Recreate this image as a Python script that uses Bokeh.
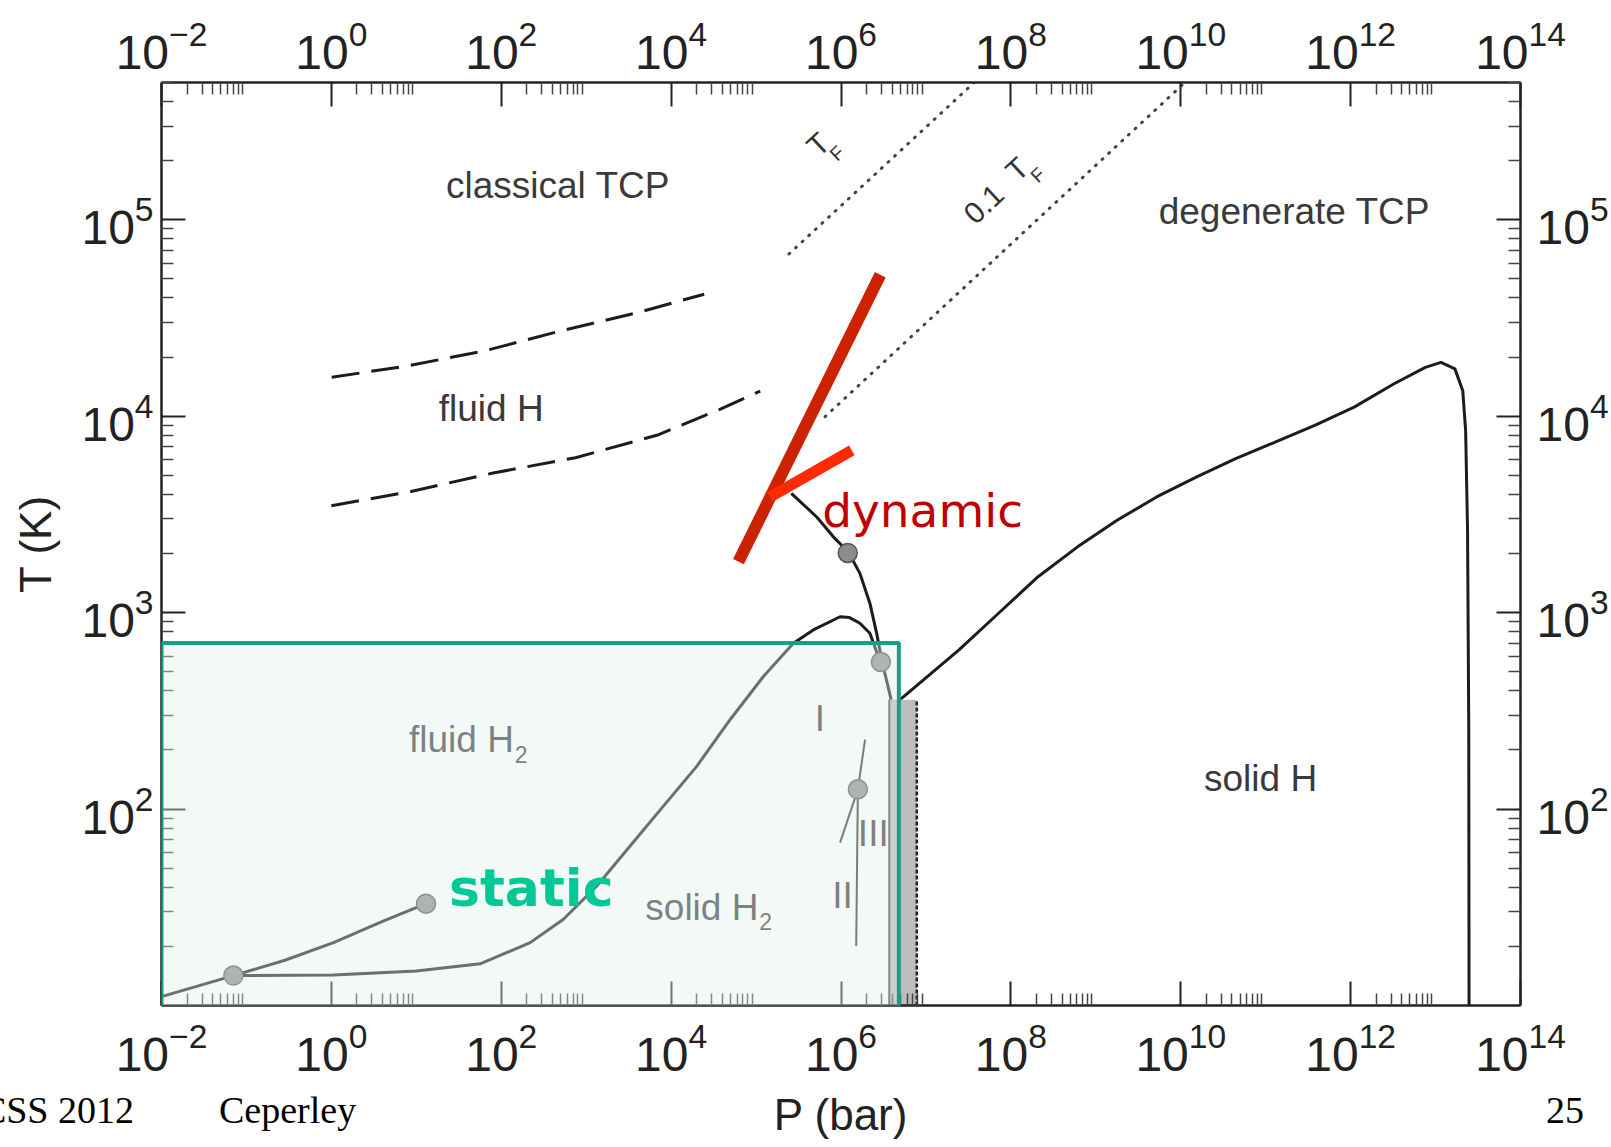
from bokeh.plotting import figure
from bokeh.layouts import column
from bokeh.models import (LogAxis, FixedTicker, LogTickFormatter, Range1d, Label,
                          BoxAnnotation, Div)
from bokeh.core.properties import value
from bokeh.embed import file_html
from bokeh.resources import INLINE

# ---------------- data (P in bar, T in K) ----------------
x_major = [1e-2, 1e0, 1e2, 1e4, 1e6, 1e8, 1e10, 1e12, 1e14]
x_minor = [k * 10.0 ** n for n in range(-2, 14, 2) for k in range(2, 10)]
y_major = [1e2, 1e3, 1e4, 1e5]
y_minor = [k * 10.0 ** n for n in range(1, 6) for k in range(2, 10)]

subl_P = [0.01, 0.0703]
subl_T = [11.1, 14.2]
vap_P = [0.0703, 0.284, 1.06, 3.94, 13.0]
vap_T = [14.2, 17.0, 20.9, 26.7, 33.0]
melt_P = [0.0703, 1.06, 10.0, 56.4, 219, 540, 1334, 3289, 8110, 2.00e4, 4.94e4,
          1.22e5, 2.75e5, 4.72e5, 9.75e5, 1.26e6, 1.67e6, 2.19e6, 2.88e6]
melt_T = [14.2, 14.3, 15.0, 16.3, 20.9, 27.5, 40.6, 64.9, 103.5, 165, 285,
          473, 698, 817, 953, 944, 883, 785, 564]
diss_P = [2.6e5, 5.18e5, 8.13e5, 1.22e6, 1.67e6, 2.19e6, 2.63e6, 3.01e6, 3.9e6]
diss_T = [4050, 3069, 2432, 2037, 1585, 1114, 785, 575, 360]
solidH_P = [4.9e6, 5.47e6, 2.45e7, 7.16e7, 2.09e8, 6.10e8, 1.78e9, 5.20e9, 1.52e10,
            4.43e10, 1.29e11, 3.78e11, 1.10e12, 3.21e12, 7.57e12, 1.16e13, 1.69e13,
            2.09e13, 2.26e13, 2.38e13, 2.46e13, 2.48e13]
solidH_T = [360, 374, 646, 993, 1524, 2163, 2951, 3882, 4898, 6081, 7379, 8974,
            11120, 14590, 17740, 18790, 17420, 13490, 8450, 2630, 254, 10]
i3_P = [9.75e5, 1.58e6, 1.92e6]
i3_T = [67.5, 126, 226]
ii_P = [1.58e6, 1.51e6]
ii_T = [126, 20.1]
band_P = [3.7e6, 7.8e6]
band_T = [10, 360]

dashA_P = [1.01, 8.05, 64.0, 509, 4055, 2.45e4]
dashA_T = [15780, 18070, 21530, 27230, 33730, 41780]
dashB_P = [1.0, 8.69, 80.5, 748, 6930, 3.69e4, 1.12e5]
dashB_T = [3500, 4140, 5140, 6150, 8020, 10810, 13430]

tf_P = [2.44e5, 3.7e7]
tf_T = [6.7e4, 5.0e5]
tf01_P = [6.5e5, 1.12e10]
tf01_T = [9950, 5.0e5]

dot_P = [0.0703, 13.0, 2.95e6, 1.2e6, 1.58e6]
dot_T = [14.2, 33.0, 560, 2014, 126]

dyn1_P = [6.2e4, 2.9e6]
dyn1_T = [1820, 52500]
dyn2_P = [1.46e5, 1.34e6]
dyn2_T = [3880, 6700]

static_P = [1e-2, 4.8e6]
static_T = [9.7, 700]

region_text = ["classical TCP", "degenerate TCP", "fluid H", "fluid H", "solid H", "solid H",
               "I", "II", "III"]
region_P = [4.66e2, 2.18e11, 76.2, 34.0, 2.30e4, 8.7e10, 5.65e5, 1.04e6, 2.40e6]
region_T = [1.49e5, 1.10e5, 1.10e4, 226, 31.5, 143, 288, 36.5, 75]
sub_text = ["2", "2"]
sub_P = [172, 1.3e5]
sub_T = [189, 26.7]

footer_items = ["CSS 2012", "Ceperley", "25"]

# ---------------- figure ----------------
W = 1608
BOTTOM = 156
p = figure(x_axis_type="log", y_axis_type="log",
           x_range=Range1d(1e-2, 1e14), y_range=Range1d(10, 5e5),
           frame_width=1359, frame_height=923,
           min_border_left=161, min_border_right=W - 161 - 1359,
           min_border_top=82, min_border_bottom=BOTTOM,
           output_backend="svg", toolbar_location=None)
p.grid.visible = False
p.outline_line_color = None
p.background_fill_color = "white"
p.border_fill_color = "white"

xt = FixedTicker(ticks=x_major, minor_ticks=x_minor)
yt = FixedTicker(ticks=y_major, minor_ticks=y_minor)


def style(ax, ticker, standoff):
    ax.ticker = ticker
    ax.formatter = LogTickFormatter()
    ax.axis_line_color = "#222222"
    ax.axis_line_width = 2.5
    ax.major_tick_line_color = "#222222"
    ax.major_tick_line_width = 2
    ax.major_tick_in = 24
    ax.major_tick_out = 0
    ax.minor_tick_line_color = "#444444"
    ax.minor_tick_line_width = 1.5
    ax.minor_tick_in = 12
    ax.minor_tick_out = 0
    ax.major_label_text_font = "Liberation Sans"
    ax.major_label_text_font_size = "48px"
    ax.major_label_text_color = "#222222"
    ax.major_label_standoff = standoff


bx = p.xaxis[0]
style(bx, xt, 16)
bx.axis_label = "P (bar)"
bx.axis_label_standoff = 16
ly = p.yaxis[0]
style(ly, yt, 8)
ly.axis_label = "T (K)"
ly.axis_label_standoff = 18
for ax in (bx, ly):
    ax.axis_label_text_font = "Liberation Sans"
    ax.axis_label_text_font_size = "44px"
    ax.axis_label_text_font_style = "normal"
    ax.axis_label_text_color = "#222222"

top = LogAxis()
style(top, xt, 14)
p.add_layout(top, "above")
right = LogAxis()
style(right, yt, 16)
p.add_layout(right, "right")

# ---------------- phase lines ----------------
black = "#1c1c1c"
p.line(subl_P, subl_T, line_color=black, line_width=3)
p.line(vap_P, vap_T, line_color=black, line_width=3, line_join="round")
p.line(melt_P, melt_T, line_color=black, line_width=3, line_join="round")
p.line(diss_P, diss_T, line_color=black, line_width=3, line_join="round")
p.line(solidH_P, solidH_T, line_color=black, line_width=3, line_join="round")
p.line(i3_P, i3_T, line_color="#333333", line_width=2)
p.line(ii_P, ii_T, line_color="#333333", line_width=2)
p.quad(left=band_P[0], right=band_P[1], bottom=band_T[0], top=band_T[1],
       fill_color="#bdbdbd", line_color=None)
p.line([band_P[0], band_P[0]], band_T, line_color="#444444", line_width=2)
p.line([band_P[1], band_P[1]], band_T, line_color="#222222", line_width=2.5,
       line_dash="4 2")

p.line(dashA_P, dashA_T, line_color=black, line_width=3, line_dash="28 12")
p.line(dashB_P, dashB_T, line_color=black, line_width=3, line_dash="28 12")
p.line(tf_P, tf_T, line_color="#444444", line_width=3, line_dash="1 8", line_cap="round")
p.line(tf01_P, tf01_T, line_color="#444444", line_width=3, line_dash="1 8", line_cap="round")

p.scatter(dot_P, dot_T, size=19, fill_color="#8c8c8c", line_color="#555555", line_width=1.5)

# ---------------- labels ----------------
p.text(region_P, region_T, text=region_text, text_font=value("Liberation Sans"),
       text_font_size="37px", text_color="#3a3a3a", text_align="center",
       text_baseline="middle")
p.text(sub_P, sub_T, text=sub_text, text_font=value("Liberation Sans"),
       text_font_size="23px", text_color="#3a3a3a", text_align="center",
       text_baseline="middle")
p.text([5.37e5, 4.82e7, 1.18e8], [2.42e5, 1.20e5, 1.81e5], text=["T", "0.1", "T"],
       text_font=value("Liberation Sans"), text_font_size="30px", text_color="#333333",
       angle=0.75, text_align="center", text_baseline="middle")
p.text([8.97e5, 2.08e8], [2.18e5, 1.69e5], text=["F", "F"],
       text_font=value("Liberation Sans"), text_font_size="19px", text_color="#333333",
       angle=0.75, text_align="center", text_baseline="middle")

# ---------------- static box & dynamic marks ----------------
box = BoxAnnotation(left=static_P[0], right=static_P[1], bottom=static_T[0], top=static_T[1],
                    fill_color="#e0f0ea", fill_alpha=0.4, line_color="#17a086",
                    line_alpha=1.0, line_width=4, level="annotation")
p.add_layout(box)

r1 = p.line(dyn1_P, dyn1_T, line_color="#cc2200", line_width=12)
r2 = p.line(dyn2_P, dyn2_T, line_color="#ff2a00", line_width=11)
r1.level = "overlay"
r2.level = "overlay"

p.add_layout(Label(x=6.0e5, y=3296, text="dynamic", text_font="DejaVu Sans",
                   text_font_size="47px", text_color="#c00000",
                   text_baseline="alphabetic", level="overlay"))
p.add_layout(Label(x=24.3, y=39.6, text="static", text_font="DejaVu Sans",
                   text_font_size="52px", text_font_style="bold", text_color="#00c896",
                   text_baseline="alphabetic", level="overlay"))

# ---------------- slide footer: a strip pulled up over the plot's bottom border ----------------
FH = 64
span = "position:absolute;top:-6px;"
footer_html = (
    "<div style=\"position:relative;width:%dpx;height:%dpx;font-family:'Liberation Serif',serif;"
    "font-size:38px;line-height:38px;color:#000;white-space:nowrap;\">"
    "<span style=\"%sright:%dpx;\">%s</span>"
    "<span style=\"%sleft:219px;\">%s</span>"
    "<span style=\"%sleft:1546px;\">%s</span>"
    "</div>" % (W, FH, span, W - 134, footer_items[0], span, footer_items[1],
                span, footer_items[2])
)
footer = Div(text=footer_html, width=W, height=FH, margin=(-FH, 0, 0, 0))

layout = column(p, footer, spacing=0)
open("out.html", "w").write(file_html(layout, INLINE))
